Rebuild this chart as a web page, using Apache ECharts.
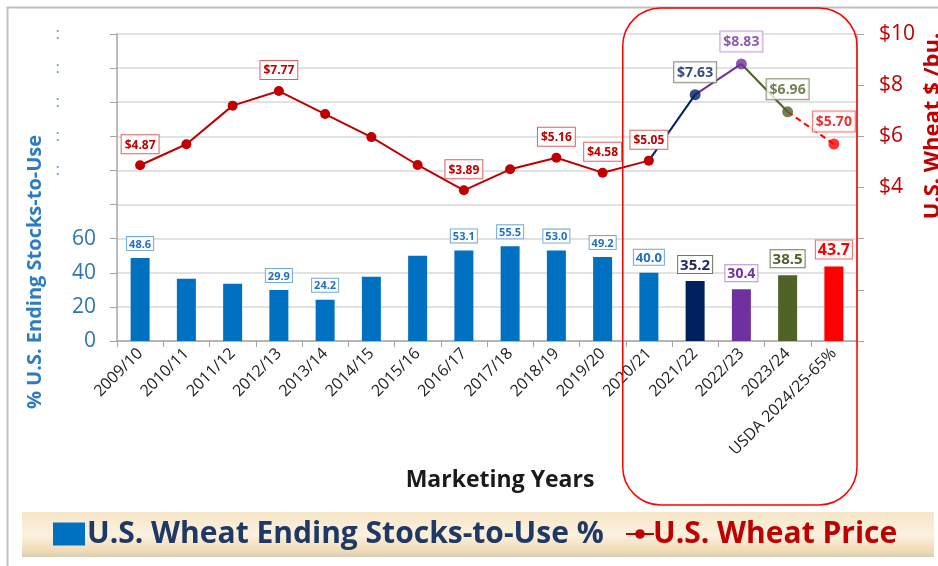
<!DOCTYPE html>
<html>
<head>
<meta charset="utf-8">
<title>U.S. Wheat Stocks-to-Use and Price</title>
<script src="https://cdn.jsdelivr.net/npm/echarts@6/dist/echarts.min.js"></script>
<style>
  html, body { margin: 0; padding: 0; background: #ffffff; }
  #chart { width: 938px; height: 566px; }
</style>
</head>
<body>
<div id="chart"></div>
<script>
// Marketing years on the category axis
const years = ['2009/10', '2010/11', '2011/12', '2012/13', '2013/14', '2014/15', '2015/16',
  '2016/17', '2017/18', '2018/19', '2019/20', '2020/21', '2021/22', '2022/23', '2023/24',
  'USDA 2024/25-65%'];

// Ending stocks-to-use, percent
const stocksToUse = [48.6, 36.5, 33.5, 29.9, 24.2, 37.6, 50.0, 53.1, 55.5, 53.0, 49.2,
  40.0, 35.2, 30.4, 38.5, 43.7];

// Season-average wheat price, $/bu.
const price = [4.87, 5.69, 7.20, 7.77, 6.87, 5.97, 4.88, 3.89, 4.71, 5.16, 4.58,
  5.05, 7.63, 8.83, 6.96, 5.70];

// Which years carry a value box
const stocksLabeled = [1, 0, 0, 1, 1, 0, 0, 1, 1, 1, 1, 1, 1, 1, 1, 1];
const priceLabeled = [1, 0, 0, 1, 0, 0, 0, 1, 0, 1, 1, 1, 1, 1, 1, 1];

// Axis ranges
const stocksTickMax = 180;
const stocksTickStep = 20;
const priceTickMin = -2;
const priceTickMax = 10;
const priceTickStep = 2;

// ---- styling ----
const BLUE = '#0070C0', NAVY = '#002060', PURPLE = '#7030A0', OLIVE = '#4F6228',
  RED = '#FF0000', DARK_RED = '#C00000';
const FONT = '"Open Sans", "Noto Sans", sans-serif';
// The last four years are highlighted with their own colours
const hiColor = { 12: NAVY, 13: PURPLE, 14: OLIVE, 15: RED };
const barColor = i => hiColor[i] || BLUE;
const dotColor = i => hiColor[i] || DARK_RED;
const barLabelColor = i => ({ 12: '#1F2A5A', 13: PURPLE, 14: OLIVE, 15: RED })[i] || '#1F70C0';
const barLabelBorder = i => ({ 12: '#6B7A5A', 13: '#B48AD8', 14: '#6B7A50', 15: '#FF6060' })[i] || '#6FA8DC';
const barLabelSize = i => ({ 11: 13, 12: 15, 13: 14, 14: 15, 15: 16 })[i] || 11;
const priceLabelColor = i => ({ 12: NAVY, 13: PURPLE, 14: OLIVE, 15: '#E00000' })[i] || DARK_RED;
const priceLabelBorder = i => ({ 12: '#6B7A5A', 13: '#B48AD8', 14: '#6B7A50', 15: '#FF5050' })[i] || '#E06060';
const priceLabelSize = i => (i >= 12 ? 14 : 12);

const chart = echarts.init(document.getElementById('chart'), null, { renderer: 'canvas' });

const barData = stocksToUse.map((v, i) => ({
  value: v,
  itemStyle: { color: barColor(i) },
  label: {
    show: !!stocksLabeled[i],
    position: 'top',
    distance: 8,
    formatter: p => p.value.toFixed(1),
    color: barLabelColor(i),
    fontSize: barLabelSize(i),
    fontWeight: 'bold',
    fontFamily: FONT,
    backgroundColor: '#ffffff',
    borderColor: barLabelBorder(i),
    borderWidth: 1,
    padding: [2, 2, 0, 2]
  }
}));

function priceItem(i) {
  return {
    value: price[i],
    itemStyle: { color: dotColor(i) },
    label: {
      show: !!priceLabeled[i],
      position: 'top',
      distance: 7,
      formatter: p => '$' + p.value.toFixed(2),
      color: priceLabelColor(i),
      fontSize: priceLabelSize(i),
      fontWeight: 'bold',
      fontFamily: FONT,
      backgroundColor: '#ffffff',
      borderColor: priceLabelBorder(i),
      borderWidth: 1,
      padding: [4, 3, 2, 3]
    }
  };
}

const lastRegular = 11; // 2020/21 closes the plain red run
const mainPrice = price.map((v, i) => (i <= lastRegular ? priceItem(i) : '-'));
const latePoints = price.map((v, i) => (i > lastRegular ? priceItem(i) : '-'));

// one short coloured segment per highlighted year
const segmentSeries = [];
for (let i = lastRegular; i < price.length - 1; i++) {
  segmentSeries.push({
    type: 'line',
    name: 'segment' + i,
    yAxisIndex: 1,
    symbol: 'none',
    silent: true,
    data: price.map((v, j) => (j === i || j === i + 1 ? v : '-')),
    lineStyle: {
      color: dotColor(i + 1),
      width: 2,
      type: i + 1 === price.length - 1 ? [6, 4] : 'solid'
    },
    z: 3
  });
}

const option = {
  backgroundColor: '#ffffff',
  animation: false,
  textStyle: { fontFamily: FONT },
  grid: { left: 117, right: 81, top: 34, bottom: 225, containLabel: false },
  legend: [
    {
      data: [{ name: 'U.S. Wheat Ending Stocks-to-Use %', icon: 'rect' }],
      left: 48, top: 514,
      itemWidth: 32, itemHeight: 23,
      itemGap: 4,
      textStyle: { color: '#1F3864', fontSize: 30, fontWeight: 'bold', fontFamily: FONT, padding: [0, 0, 0, -3] },
      selectedMode: false
    },
    {
      data: [{ name: 'U.S. Wheat Price' }],
      left: 620, top: 514,
      itemWidth: 28, itemHeight: 12,
      textStyle: { color: DARK_RED, fontSize: 30, fontWeight: 'bold', fontFamily: FONT, padding: [0, 0, 0, -6] },
      selectedMode: false
    }
  ],
  xAxis: {
    type: 'category',
    data: years,
    boundaryGap: true,
    name: 'Marketing Years',
    nameLocation: 'middle',
    nameGap: 128,
    nameTextStyle: { color: '#1a1a1a', fontSize: 23, fontWeight: 'bold', fontFamily: FONT, padding: [0, 0, 0, 26] },
    axisLine: { lineStyle: { color: '#A6A6A6', width: 1.5 } },
    axisTick: { show: true, alignWithLabel: false, length: 6, lineStyle: { color: '#A6A6A6' } },
    axisLabel: { rotate: 45, fontSize: 16, color: '#222222', margin: 10, interval: 0, fontFamily: FONT }
  },
  yAxis: [
    {
      type: 'value',
      min: 0, max: stocksTickMax, interval: stocksTickStep,
      axisLine: { show: true, lineStyle: { color: '#A6A6A6', width: 1.5 } },
      axisTick: { show: true, length: 7, lineStyle: { color: '#A6A6A6' } },
      splitLine: { show: true, lineStyle: { color: '#D9D9D9', width: 1.5 } },
      axisLabel: {
        margin: 21,
        fontSize: 21,
        color: '#2E75B6',
        fontFamily: FONT,
        formatter: v => (v <= 60 ? String(v) : (v >= 100 ? '{dots|:}' : '')),
        rich: { dots: { fontSize: 17, color: '#5B9BD5', padding: [0, 36, 0, 0] } }
      }
    },
    {
      type: 'value',
      min: priceTickMin, max: priceTickMax, interval: priceTickStep,
      position: 'right',
      axisLine: { show: true, lineStyle: { color: '#A6A6A6', width: 1.5 } },
      axisTick: { show: true, length: 7, lineStyle: { color: '#A6A6A6' } },
      splitLine: { show: false },
      axisLabel: {
        margin: 22,
        fontSize: 21,
        color: DARK_RED,
        fontFamily: FONT,
        formatter: v => (v >= 4 ? '$' + v : '')
      }
    }
  ],
  series: [
    {
      type: 'bar',
      name: 'U.S. Wheat Ending Stocks-to-Use %',
      yAxisIndex: 0,
      barWidth: 19,
      itemStyle: { color: BLUE },
      data: barData,
      z: 2
    },
    ...segmentSeries,
    {
      type: 'line',
      name: 'U.S. Wheat Price',
      yAxisIndex: 1,
      data: mainPrice,
      symbol: 'circle',
      symbolSize: 10,
      itemStyle: { color: DARK_RED },
      lineStyle: { color: DARK_RED, width: 2 },
      z: 4
    },
    {
      type: 'scatter',
      name: 'late prices',
      yAxisIndex: 1,
      data: latePoints,
      symbol: 'circle',
      symbolSize: 11,
      z: 5
    }
  ]
};

chart.setOption(option);

// Frame, legend band, axis titles and the outline around the recent years
const x0 = chart.convertToPixel({ xAxisIndex: 0 }, years[lastRegular - 1]);
const x1 = chart.convertToPixel({ xAxisIndex: 0 }, years[lastRegular]);
const boxLeft = (x0 + x1) / 2 - 3;
const boxRight = 938 - 81;

chart.setOption({
  graphic: [
    {
      type: 'polyline', silent: true, z: -10,
      shape: { points: [[7.5, 566], [7.5, 7.5], [938, 7.5]] },
      style: { stroke: '#BFBFBF', lineWidth: 2, fill: null }
    },
    {
      type: 'rect', silent: true, z: -5,
      shape: { x: 22, y: 512, width: 912, height: 45 },
      style: {
        fill: new echarts.graphic.LinearGradient(0, 0, 0, 1, [
          { offset: 0, color: '#F6E6C8' },
          { offset: 0.5, color: '#FBF1DF' },
          { offset: 0.85, color: '#F0DDB8' },
          { offset: 1, color: '#D9CDB5' }
        ])
      }
    },
    {
      type: 'rect', silent: true, z: 10,
      shape: { x: boxLeft, y: 8, width: boxRight - boxLeft, height: 497, r: 38 },
      style: { stroke: '#FF0000', lineWidth: 1.5, fill: null }
    },
    {
      type: 'text', silent: true, z: 10,
      x: 35, y: 272, rotation: Math.PI / 2,
      style: {
        text: '% U.S. Ending Stocks-to-Use',
        fill: '#2E7BC4', font: 'bold 20px ' + FONT,
        align: 'center', verticalAlign: 'middle'
      }
    },
    {
      type: 'text', silent: true, z: 10,
      x: 933, y: 126, rotation: Math.PI / 2,
      style: {
        text: 'U.S. Wheat $ /bu.',
        fill: DARK_RED, font: 'bold 22px ' + FONT,
        align: 'center', verticalAlign: 'middle'
      }
    }
  ]
});
</script>
</body>
</html>
